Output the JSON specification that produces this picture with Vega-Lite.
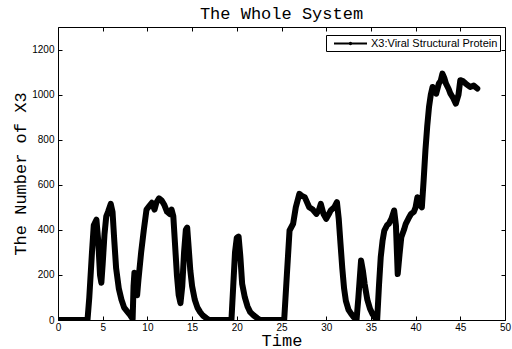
{
  "$schema": "https://vega.github.io/schema/vega-lite/v6.json",
  "width": 447,
  "height": 293,
  "autosize": "none",
  "padding": {"left": 58, "top": 27, "right": 7, "bottom": 29},
  "background": "white",
  "config": {
    "view": {"stroke": "black", "strokeWidth": 1},
    "axis": {
      "domain": false,
      "grid": false,
      "tickColor": "black",
      "tickSize": -4,
      "tickWidth": 1,
      "labelFont": "Liberation Sans",
      "labelFontSize": 10,
      "labelColor": "black",
      "titleFont": "Liberation Mono",
      "titleFontSize": 17,
      "titleFontWeight": "normal",
      "titleColor": "black"
    }
  },
  "title": {
    "text": "The Whole System",
    "font": "Liberation Mono",
    "fontSize": 17,
    "fontWeight": "normal",
    "color": "black",
    "offset": 4
  },
  "data": {
    "values": [
      {"t": 0, "v": 0}, {"t": 3.3, "v": 0}, {"t": 3.5, "v": 100}, {"t": 3.8, "v": 300}, {"t": 4.0, "v": 420},
      {"t": 4.3, "v": 445}, {"t": 4.5, "v": 350}, {"t": 4.7, "v": 200}, {"t": 4.85, "v": 165}, {"t": 5.0, "v": 250},
      {"t": 5.2, "v": 380}, {"t": 5.4, "v": 460}, {"t": 5.6, "v": 480}, {"t": 5.9, "v": 515}, {"t": 6.1, "v": 480},
      {"t": 6.3, "v": 350}, {"t": 6.5, "v": 230}, {"t": 6.8, "v": 140}, {"t": 7.1, "v": 90}, {"t": 7.4, "v": 55},
      {"t": 7.8, "v": 35}, {"t": 8.1, "v": 20}, {"t": 8.35, "v": 5}, {"t": 8.45, "v": 150}, {"t": 8.55, "v": 210},
      {"t": 8.7, "v": 160}, {"t": 8.85, "v": 110}, {"t": 9.0, "v": 180}, {"t": 9.3, "v": 300}, {"t": 9.6, "v": 400},
      {"t": 9.9, "v": 490}, {"t": 10.2, "v": 505}, {"t": 10.5, "v": 520}, {"t": 10.8, "v": 490}, {"t": 11.0, "v": 520},
      {"t": 11.3, "v": 540}, {"t": 11.6, "v": 530}, {"t": 11.9, "v": 510}, {"t": 12.2, "v": 480}, {"t": 12.5, "v": 470},
      {"t": 12.7, "v": 490}, {"t": 12.9, "v": 460}, {"t": 13.1, "v": 330}, {"t": 13.3, "v": 200}, {"t": 13.5, "v": 110},
      {"t": 13.7, "v": 75}, {"t": 13.9, "v": 150}, {"t": 14.1, "v": 300}, {"t": 14.3, "v": 400}, {"t": 14.45, "v": 410},
      {"t": 14.6, "v": 330}, {"t": 14.8, "v": 220}, {"t": 15.0, "v": 150}, {"t": 15.3, "v": 90}, {"t": 15.6, "v": 55},
      {"t": 15.9, "v": 35}, {"t": 16.2, "v": 20}, {"t": 16.6, "v": 8}, {"t": 16.9, "v": 0}, {"t": 19.4, "v": 0},
      {"t": 19.6, "v": 150}, {"t": 19.8, "v": 300}, {"t": 20.0, "v": 365}, {"t": 20.2, "v": 370}, {"t": 20.4, "v": 280},
      {"t": 20.6, "v": 160}, {"t": 20.9, "v": 100}, {"t": 21.2, "v": 60}, {"t": 21.5, "v": 35}, {"t": 21.9, "v": 20},
      {"t": 22.3, "v": 8}, {"t": 22.6, "v": 0}, {"t": 25.3, "v": 0}, {"t": 25.6, "v": 200}, {"t": 25.9, "v": 397},
      {"t": 26.3, "v": 427}, {"t": 26.6, "v": 500}, {"t": 27.0, "v": 560}, {"t": 27.3, "v": 550}, {"t": 27.6, "v": 545},
      {"t": 28.1, "v": 500}, {"t": 28.5, "v": 490}, {"t": 28.9, "v": 471}, {"t": 29.2, "v": 490}, {"t": 29.4, "v": 515},
      {"t": 29.7, "v": 470}, {"t": 30.0, "v": 449}, {"t": 30.3, "v": 470}, {"t": 30.5, "v": 486}, {"t": 30.9, "v": 500},
      {"t": 31.2, "v": 523}, {"t": 31.4, "v": 450}, {"t": 31.6, "v": 338}, {"t": 31.8, "v": 230}, {"t": 32.0, "v": 140},
      {"t": 32.2, "v": 85}, {"t": 32.5, "v": 45}, {"t": 32.8, "v": 27}, {"t": 33.1, "v": 12}, {"t": 33.4, "v": 3},
      {"t": 33.6, "v": 100}, {"t": 33.9, "v": 264}, {"t": 34.1, "v": 220}, {"t": 34.3, "v": 160}, {"t": 34.6, "v": 90},
      {"t": 34.9, "v": 50}, {"t": 35.2, "v": 25}, {"t": 35.5, "v": 8}, {"t": 35.7, "v": 0}, {"t": 35.9, "v": 150},
      {"t": 36.1, "v": 279}, {"t": 36.3, "v": 350}, {"t": 36.5, "v": 397}, {"t": 36.8, "v": 420}, {"t": 37.0, "v": 427},
      {"t": 37.3, "v": 450}, {"t": 37.6, "v": 486}, {"t": 37.8, "v": 420}, {"t": 38.0, "v": 204}, {"t": 38.2, "v": 290},
      {"t": 38.4, "v": 367}, {"t": 38.7, "v": 400}, {"t": 38.9, "v": 427}, {"t": 39.2, "v": 450}, {"t": 39.5, "v": 471},
      {"t": 39.8, "v": 480}, {"t": 40.0, "v": 500}, {"t": 40.2, "v": 545}, {"t": 40.5, "v": 510}, {"t": 40.7, "v": 500},
      {"t": 40.9, "v": 620}, {"t": 41.1, "v": 753}, {"t": 41.3, "v": 860}, {"t": 41.5, "v": 945}, {"t": 41.7, "v": 1000},
      {"t": 41.9, "v": 1034}, {"t": 42.1, "v": 1020}, {"t": 42.3, "v": 1004}, {"t": 42.6, "v": 1049}, {"t": 42.8, "v": 1060},
      {"t": 43.0, "v": 1093}, {"t": 43.2, "v": 1075}, {"t": 43.4, "v": 1049}, {"t": 43.7, "v": 1025}, {"t": 43.9, "v": 1004},
      {"t": 44.2, "v": 985}, {"t": 44.5, "v": 960}, {"t": 44.8, "v": 1000}, {"t": 45.0, "v": 1064}, {"t": 45.3, "v": 1060},
      {"t": 45.6, "v": 1049}, {"t": 45.9, "v": 1040}, {"t": 46.1, "v": 1034}, {"t": 46.5, "v": 1040}, {"t": 46.9, "v": 1027}
    ]
  },
  "layer": [
    {
      "mark": {"type": "line", "strokeWidth": 6, "clip": true, "strokeJoin": "round", "strokeCap": "round"},
      "encoding": {
        "x": {
          "field": "t", "type": "quantitative",
          "scale": {"domain": [0, 50], "nice": false, "zero": false},
          "axis": {"title": "Time", "values": [0, 5, 10, 15, 20, 25, 30, 35, 40, 45, 50], "labelPadding": 6, "titlePadding": 0, "labelFlush": false, "labelOverlap": false, "format": "d"}
        },
        "y": {
          "field": "v", "type": "quantitative",
          "scale": {"domain": [0, 1300], "nice": false},
          "axis": {"title": "The Number of X3", "values": [0, 200, 400, 600, 800, 1000, 1200], "labelPadding": 8, "titlePadding": 2, "labelOverlap": false, "format": "d"}
        },
        "color": {
          "datum": "X3:Viral Structural Protein", "type": "nominal",
          "scale": {"range": ["black"]},
          "legend": {
            "title": null, "orient": "none", "legendX": 268, "legendY": 8,
            "strokeColor": "black", "fillColor": "white", "padding": 2, "cornerRadius": 0,
            "symbolType": "M-3,0H3M-0.15,0a0.15,0.15 0 1,0 0.3,0a0.15,0.15 0 1,0 -0.3,0", "symbolSize": 121, "symbolStrokeWidth": 2,
            "symbolOffset": 16,
            "labelFont": "Liberation Sans", "labelFontSize": 11, "labelColor": "black", "labelOffset": 14
          }
        }
      }
    },
    {
      "mark": {"type": "point", "opacity": 0},
      "encoding": {
        "x": {"field": "t", "type": "quantitative", "axis": {"orient": "top", "labels": false, "title": null, "values": [0, 5, 10, 15, 20, 25, 30, 35, 40, 45, 50]}},
        "y": {"field": "v", "type": "quantitative", "axis": {"orient": "right", "labels": false, "title": null, "values": [0, 200, 400, 600, 800, 1000, 1200]}}
      }
    }
  ],
  "resolve": {"axis": {"x": "independent", "y": "independent"}}
}
